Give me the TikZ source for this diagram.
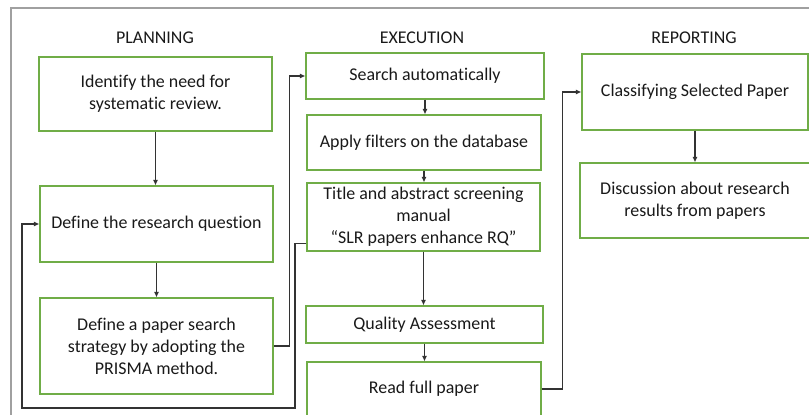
\documentclass[tikz,border=0pt]{standalone}
\usepackage{fontspec}
\setmainfont{Carlito}[Ligatures=NoCommon]
\usepackage{xcolor}
\usepackage{tikz}
\usetikzlibrary{arrows.meta, calc}

\definecolor{boxgreen}{RGB}{112,173,71}
\definecolor{framegray}{RGB}{160,160,160}

\begin{document}
\begin{tikzpicture}[x=0.02cm, y=-0.02cm,
    box/.style={draw=boxgreen, line width=0.7pt, rectangle, align=center, inner sep=2pt,
                text=black!90, font=\fontsize{10.2}{12.5}\selectfont},
    stage/.style={text=black!90, font=\fontsize{10.2}{12.5}\selectfont},
    link/.style={draw=black!80, line width=0.8pt, -{Latex[length=3.2pt,width=3pt]}}]
    \useasboundingbox (0,0) rectangle (809,414);
    \clip (0,0) rectangle (809,414);

    % outer frame
    \draw[framegray, line width=1.1pt] (11,8) rectangle (840,440);

    % phase titles
    \node[stage] (planning) at (155,38) {PLANNING};
    \node[stage] (execution) at (422,38) {EXECUTION};
    \node[stage] (reporting) at (694,38) {REPORTING};

    % planning
    \node[box, minimum width=4.66cm, minimum height=1.48cm] (p1) at (155.5,94)
        {Identify the need for\\systematic review.};
    \node[box, minimum width=4.66cm, minimum height=1.52cm] (p2) at (156.5,224)
        {Define the research question};
    \node[box, minimum width=4.66cm, minimum height=1.92cm] (p3) at (156.5,346)
        {Define a paper search\\strategy by adopting the\\PRISMA method.};

    % execution
    \node[box, minimum width=4.76cm, minimum height=0.92cm] (e1) at (425,76)
        {Search automatically};
    \node[box, minimum width=4.68cm, minimum height=1.10cm] (e2) at (424,142.5)
        {Apply filters on the database};
    \node[box, minimum width=4.66cm, minimum height=1.36cm] (e3) at (423.5,217)
        {Title and abstract screening\\manual\\“SLR papers enhance RQ”};
    \node[box, minimum width=4.74cm, minimum height=0.74cm] (e4) at (424.5,324.5)
        {Quality Assessment};
    \node[box, minimum width=4.68cm, minimum height=1.08cm] (e5) at (424,389)
        {Read full paper};

    % reporting
    \node[box, minimum width=4.52cm, minimum height=1.52cm] (r1) at (695,92)
        {Classifying Selected Paper};
    \node[box, minimum width=4.60cm, minimum height=1.50cm] (r2) at (695,200.5)
        {Discussion about research\\results from papers};

    % steps inside each phase
    \draw[link] (p1.south) -- (p1.south |- p2.north);
    \draw[link] (p2.south) -- (p2.south |- p3.north);
    \draw[link] (e1.south) -- (e1.south |- e2.north);
    \draw[link] (e2.south) -- (e2.south |- e3.north);
    \draw[link] (e3.south) -- (e3.south |- e4.north);
    \draw[link] (e4.south) -- (e4.south |- e5.north);
    \draw[link] (r1.south) -- (r1.south |- r2.north);

    % links between phases
    \draw[link] (p3.east) -- ++(16,0) |- (e1.west);
    \draw[link] (e5.east) -- ++(21,0) |- (r1.west);

    % loop back to the research question
    \coordinate (backR) at (295,408);
    \coordinate (backL) at (22,408);
    \draw[link] ($(e3.south west)+(0,-8)$) -| (backR) -- (backL) |- (p2.west);
\end{tikzpicture}
\end{document}
